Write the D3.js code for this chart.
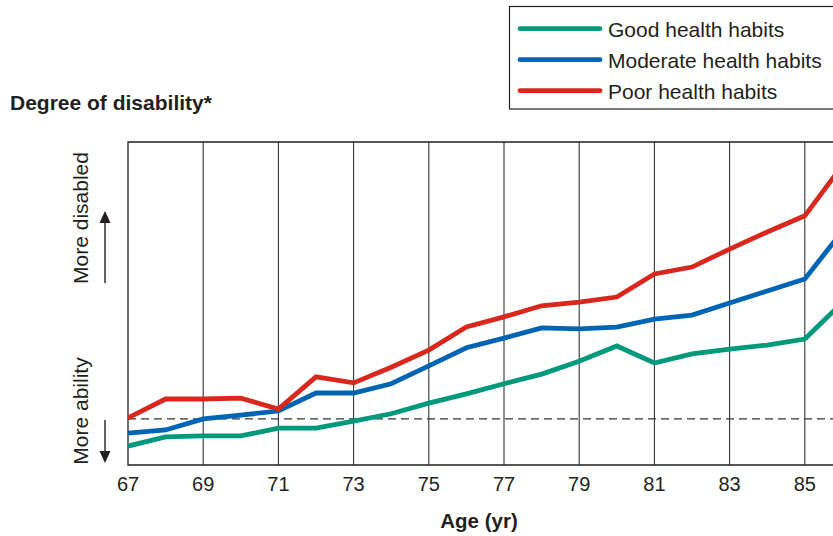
<!DOCTYPE html>
<html lang="en">
<head>
<meta charset="UTF-8">
<title>disability by health habits</title>
<script src="https://cdn.jsdelivr.net/npm/d3@7"></script>
<style>
  body { margin: 0; background: #fff; }
  text { font-family: "Liberation Sans", Arial, sans-serif; fill: #231f20; }
</style>
</head>
<body>
<script>
let width = 833;
let height = 536;

let ages = [67, 68, 69, 70, 71, 72, 73, 74, 75, 76, 77, 78, 79, 80, 81, 82, 83, 84, 85, 86];
let good = [-0.59, -0.39, -0.37, -0.37, -0.20, -0.20, -0.05, 0.11, 0.34, 0.54, 0.76, 0.97, 1.25, 1.58, 1.21, 1.41, 1.51, 1.60, 1.73, 2.52];
let moderate = [-0.31, -0.24, 0.0, 0.08, 0.17, 0.56, 0.56, 0.76, 1.15, 1.54, 1.75, 1.97, 1.95, 1.99, 2.16, 2.25, 2.51, 2.77, 3.03, 4.07];
let poor = [0.02, 0.43, 0.43, 0.45, 0.21, 0.91, 0.78, 1.12, 1.49, 1.99, 2.21, 2.45, 2.53, 2.64, 3.14, 3.29, 3.68, 4.05, 4.40, 5.49];
let tickAges = [67, 69, 71, 73, 75, 77, 79, 81, 83, 85];

let seriesNames = ['Good health habits', 'Moderate health habits', 'Poor health habits'];
let seriesColors = ['#00997b', '#0064b4', '#d8281e'];
let seriesValues = [good, moderate, poor];

let plotLeft = 128, plotTop = 142, plotBottom = 465;

let svg = d3.select('body')
  .append('svg')
  .attr('width', width)
  .attr('height', height);

let x = d3.scaleLinear().domain([67, 86]).range([plotLeft, plotLeft + 19 * 37.6]);
let y = d3.scaleLinear().domain([-1, 6]).range([plotBottom, plotTop]);

svg.append('defs').append('clipPath').attr('id', 'plot')
  .append('rect')
  .attr('x', plotLeft).attr('y', plotTop)
  .attr('width', width - plotLeft).attr('height', plotBottom - plotTop);

// vertical grid lines
svg.append('g')
  .selectAll('line')
  .data(tickAges.slice(1))
  .join('line')
  .attr('x1', d => x(d)).attr('x2', d => x(d))
  .attr('y1', plotTop).attr('y2', plotBottom)
  .attr('stroke', '#333')
  .attr('stroke-width', 1.1);

// frame (top, left, bottom)
svg.append('path')
  .attr('d', 'M' + width + ',' + plotTop + 'H' + plotLeft + 'V' + plotBottom + 'H' + width)
  .attr('fill', 'none')
  .attr('stroke', '#231f20')
  .attr('stroke-width', 1.3);

// dashed reference line
svg.append('line')
  .attr('x1', plotLeft).attr('x2', width)
  .attr('y1', y(0)).attr('y2', y(0))
  .attr('stroke', '#333')
  .attr('stroke-width', 1.2)
  .attr('stroke-dasharray', '8,5');

let line = d3.line()
  .x((d, i) => x(ages[i]))
  .y(d => y(d));

svg.append('g')
  .attr('clip-path', 'url(#plot)')
  .selectAll('path')
  .data(seriesValues)
  .join('path')
  .attr('d', d => line(d))
  .attr('fill', 'none')
  .attr('stroke', (d, i) => seriesColors[i])
  .attr('stroke-width', 4.8)
  .attr('stroke-linejoin', 'miter');

// x tick labels
svg.append('g')
  .selectAll('text')
  .data(tickAges)
  .join('text')
  .attr('x', d => x(d))
  .attr('y', 491)
  .attr('text-anchor', 'middle')
  .attr('font-size', 20)
  .text(d => d);

svg.append('text')
  .attr('x', 479).attr('y', 528)
  .attr('text-anchor', 'middle')
  .attr('font-size', 20.5)
  .attr('font-weight', 'bold')
  .text('Age (yr)');

svg.append('text')
  .attr('x', 10).attr('y', 110)
  .attr('font-size', 21)
  .attr('font-weight', 'bold')
  .text('Degree of disability*');

// side labels with arrows
svg.append('text')
  .attr('transform', 'translate(88,218) rotate(-90)')
  .attr('text-anchor', 'middle')
  .attr('font-size', 21)
  .text('More disabled');

svg.append('text')
  .attr('transform', 'translate(88,411) rotate(-90)')
  .attr('text-anchor', 'middle')
  .attr('font-size', 21)
  .text('More ability');

let arrowColor = '#231f20';
svg.append('line')
  .attr('x1', 105).attr('x2', 105).attr('y1', 283).attr('y2', 220)
  .attr('stroke', arrowColor).attr('stroke-width', 1.4);
svg.append('path')
  .attr('d', 'M99.5,223L105,211L110.5,223Z')
  .attr('fill', arrowColor);
svg.append('line')
  .attr('x1', 105).attr('x2', 105).attr('y1', 420).attr('y2', 453)
  .attr('stroke', arrowColor).attr('stroke-width', 1.4);
svg.append('path')
  .attr('d', 'M99.5,451L105,463L110.5,451Z')
  .attr('fill', arrowColor);

// legend
svg.append('rect')
  .attr('x', 509.5).attr('y', 6.5)
  .attr('width', 340).attr('height', 102.5)
  .attr('fill', '#fff')
  .attr('stroke', '#231f20')
  .attr('stroke-width', 1.2);

let legend = svg.append('g')
  .selectAll('g')
  .data(seriesNames)
  .join('g')
  .attr('transform', (d, i) => 'translate(0,' + (28.7 + i * 31) + ')');

legend.append('line')
  .attr('x1', 520).attr('x2', 600)
  .attr('stroke', (d, i) => seriesColors[i])
  .attr('stroke-width', 4.8)
  .attr('stroke-linecap', 'round');

legend.append('text')
  .attr('x', 608).attr('y', 7.8)
  .attr('font-size', 21)
  .text(d => d);
</script>
</body>
</html>
